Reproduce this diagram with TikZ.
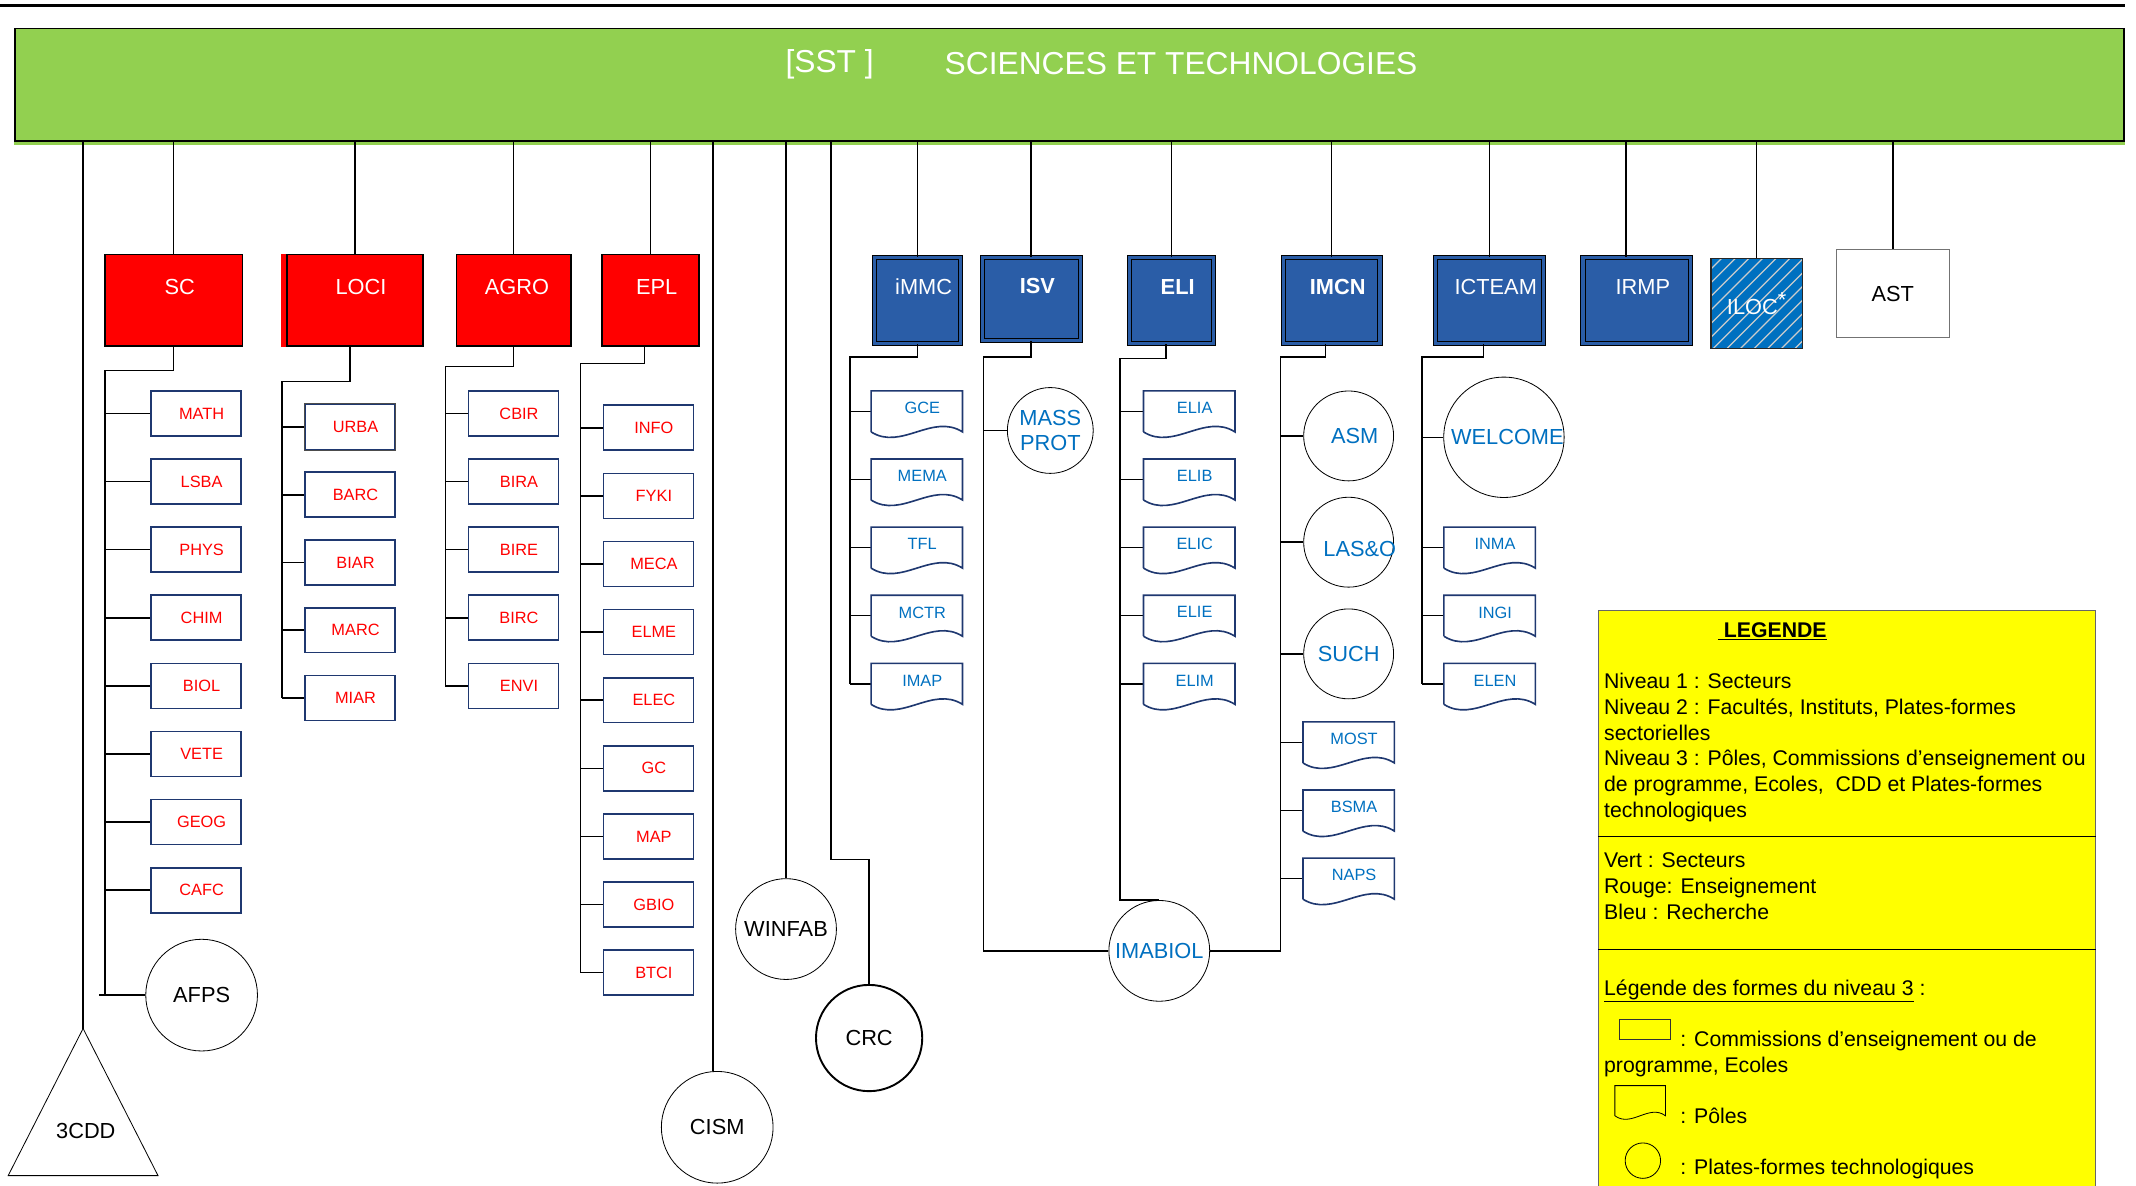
\documentclass[tikz,border=0pt]{standalone}
\usepackage{tikz}
\usepackage{fontspec}
\setmainfont{Liberation Sans}
\definecolor{vertsst}{RGB}{146,208,80}
\definecolor{rougeens}{RGB}{255,0,0}
\definecolor{bleurech}{RGB}{42,93,167}
\definecolor{bleuiloc}{RGB}{0,112,192}
\definecolor{bleutexte}{RGB}{0,112,192}
\definecolor{marine}{RGB}{31,56,112}
\definecolor{jaune}{RGB}{255,255,0}

\begin{document}
\begin{tikzpicture}
    [x=1pt, y=-1pt, line width=1.1pt,
    secteur/.style={draw=black, fill=vertsst, line width=1.2pt, inner sep=0},
    titre/.style={text=white, font=\fontsize{23.3}{28}\selectfont},
    niveau2/.style={inner sep=0, text=white, minimum height=67, text depth=20pt,
        font=\fontsize{16}{19}\selectfont, execute at begin node=\hspace*{9pt}},
    faculte/.style={niveau2, draw=black, fill=rougeens},
    institut/.style={niveau2, draw=black, fill=bleurech, double=bleurech,
        double distance=2.4pt, line width=0.7pt, minimum height=63},
    gras/.style={font=\fontsize{16}{19}\selectfont\bfseries},
    commission/.style={draw=marine, line width=1.2pt, fill=white, text=rougeens,
        inner sep=0, minimum width=66, minimum height=33, font=\fontsize{12}{14}\selectfont,
        execute at begin node=\hspace*{8pt}},
    pole/.style={text=bleutexte, inner sep=0, minimum width=66, minimum height=29,
        text depth=5pt, font=\fontsize{12}{14}\selectfont, execute at begin node=\hspace*{8pt}},
    plateforme/.style={circle, draw=black, line width=0.6pt, fill=white, inner sep=0,
        font=\fontsize{16}{19}\selectfont},
    legtexte/.style={inner sep=0, align=left, font=\fontsize{15.6}{19}\selectfont}]

    \useasboundingbox (0,0) rectangle (1568,870);
    \draw[line width=2pt] (0,4) -- (1560,4);
    \node[secteur, minimum width=1548, minimum height=82.5] (sst) at (785,62.25) {};
    \fill[vertsst] (sst.south west) rectangle ([yshift=-2.5pt]sst.south east);
    \node[titre] (sstcode) at (609,47) {[SST ]};
    \node[titre] (sstnom) at (867,47) {SCIENCES ET TECHNOLOGIES};

    \node[faculte, minimum width=101] (sc) at (127.5,220.5) {SC};
    \node[faculte, minimum width=100] (loci) at (260.5,220.5) {LOCI};
    \fill[rougeens] ([xshift=-4pt]loci.north west) rectangle (loci.south west);
    \node[faculte, minimum width=84] (agro) at (377,220.5) {AGRO\hspace*{4pt}};
    \node[faculte, minimum width=71] (epl) at (477.5,220.5) {EPL};
    \node[institut, minimum width=63] (immc) at (673.5,220.5) {iMMC};
    \node[institut, gras, minimum width=72, minimum height=61] (isv) at (757,219.5) {ISV};
    \node[institut, gras, minimum width=62] (eli) at (860,220.5) {ELI};
    \node[institut, gras, minimum width=71] (imcn) at (977.5,220.5) {IMCN};
    \node[institut, minimum width=79] (icteam) at (1093.5,220.5) {ICTEAM};
    \node[institut, minimum width=79] (irmp) at (1201.5,220.5) {IRMP};
    \node[draw=black!85, line width=0.8pt, fill=bleuiloc, text=white, inner sep=0,
        minimum width=67, minimum height=66, font=\fontsize{16}{19}\selectfont,
        path picture={\foreach \d in {-102,-92,...,38}
            \draw[black!20, line width=0.9pt] ([xshift=\d]path picture bounding box.south) -- ++(68,-68);}]
        (iloc) at (1289.5,223) {\raisebox{-2pt}{ILOC\raisebox{5pt}{*}}};
    \node[draw=black!55, line width=0.8pt, fill=white, inner sep=0, minimum width=83,
        minimum height=65, font=\fontsize{16}{19}\selectfont] (ast) at (1389.5,215.5) {AST};

    \foreach \n in {sc,loci,agro,epl,immc,isv,eli,imcn,icteam,iloc,ast}
        \draw (\n.north |- sst.south) -- (\n.north);
    \draw ([xshift=-8pt]irmp.north |- sst.south) -- ([xshift=-8pt]irmp.north);

    % SC
    \coordinate (scbus) at (77,272);
    \foreach \nom/\lab [count=\i from 0] in {math/MATH,lsba/LSBA,phys/PHYS,chim/CHIM,
        biol/BIOL,vete/VETE,geog/GEOG,cafc/CAFC}
    {
        \node[commission] (\nom) at (144,{303.5+50*\i}) {\lab};
        \draw (scbus |- \nom.west) -- (\nom.west);
    }
    \node[plateforme, minimum size=82] (afps) at (148,730.5) {AFPS};
    \draw (sc.south) |- (scbus) -- (scbus |- afps.west);
    \draw ([xshift=-4pt]scbus |- afps.west) -- (afps.west);

    % LOCI
    \coordinate (locibus) at (207,280);
    \foreach \nom/\lab [count=\i from 0] in {urba/URBA,barc/BARC,biar/BIAR,marc/MARC,miar/MIAR}
    {
        \node[commission] (\nom) at (257,{313.5+49.7*\i}) {\lab};
        \draw (locibus |- \nom.west) -- (\nom.west);
    }
    \draw[black!70, line width=0.8pt] (urba.south west) rectangle (urba.north east);
    \draw ([xshift=-3.5pt]loci.south) |- (locibus) -- (locibus |- miar.west);

    % AGRO
    \coordinate (agrobus) at (327,269);
    \foreach \nom/\lab [count=\i from 0] in {cbir/CBIR,bira/BIRA,bire/BIRE,birc/BIRC,envi/ENVI}
    {
        \node[commission] (\nom) at (377,{303.5+50*\i}) {\lab};
        \draw (agrobus |- \nom.west) -- (\nom.west);
    }
    \draw (agro.south) |- (agrobus) -- (agrobus |- envi.west);

    % EPL
    \coordinate (eplbus) at (426,267);
    \foreach \nom/\lab [count=\i from 0] in {info/INFO,fyki/FYKI,meca/MECA,elme/ELME,
        elec/ELEC,gc/GC,map/MAP,gbio/GBIO,btci/BTCI}
    {
        \node[commission] (\nom) at (476,{314+50*\i}) {\lab};
        \draw (eplbus |- \nom.west) -- (\nom.west);
    }
    \draw ([xshift=-4.5pt]epl.south) |- (eplbus) -- (eplbus |- btci.west);

    % iMMC
    \coordinate (immcbus) at (624,262);
    \foreach \nom/\lab [count=\i from 0] in {gce/GCE,mema/MEMA,tfl/TFL,mctr/MCTR,imap/IMAP}
    {
        \node[pole] (\nom) at (673,{302+50*\i}) {\lab};
        \draw (immcbus |- \nom.west) -- (\nom.west);
    }
    \draw (immc.south) |- (immcbus) -- (immcbus |- imap.west);

    % ISV
    \coordinate (isvbus) at (722,262);
    \node[plateforme, minimum size=63, text=bleutexte, align=center] (massprot) at (771,316) {MASS\\PROT};
    \node[plateforme, minimum size=74, text=bleutexte] (imabiol) at (851,698) {IMABIOL};
    \draw (isv.south) |- (isvbus) |- (imabiol.west);
    \draw (isvbus |- massprot.west) -- (massprot.west);

    % ELI
    \coordinate (elibus) at (822,263);
    \foreach \nom/\lab [count=\i from 0] in {elia/ELIA,elib/ELIB,elic/ELIC,elie/ELIE,elim/ELIM}
    {
        \node[pole] (\nom) at (873,{302+50*\i}) {\lab};
        \draw (elibus |- \nom.west) -- (\nom.west);
    }
    \draw ([xshift=-4pt]eli.south) |- (elibus) |- (imabiol.north);

    % IMCN
    \coordinate (imcnbus) at (940,262);
    \node[plateforme, minimum size=66, text=bleutexte] (asm) at (990,320) {\hspace*{9pt}ASM};
    \node[plateforme, minimum size=66, text=bleutexte] (lasso) at (990,398)
        {\makebox[53pt][l]{\hspace*{8pt}\raisebox{-5pt}[11pt][0pt]{LAS\&O}}};
    \node[plateforme, minimum size=66, text=bleutexte] (such) at (990,480) {SUCH};
    \foreach \nom/\lab [count=\i from 0] in {most/MOST,bsma/BSMA,naps/NAPS}
        \node[pole] (\nom) at (990,{545+50*\i}) {\lab};
    \foreach \nom in {asm,lasso,such,most,bsma,naps}
        \draw (imcnbus |- \nom.west) -- (\nom.west);
    \draw ([xshift=-4.5pt]imcn.south) |- (imcnbus) |- (imabiol.east);

    % ICTEAM
    \coordinate (icteambus) at (1044,262);
    \node[plateforme, minimum size=88, text=bleutexte] (welcome) at (1104,321) {\hspace*{5pt}WELCOME};
    \foreach \nom/\lab [count=\i from 0] in {inma/INMA,ingi/INGI,elen/ELEN}
        \node[pole] (\nom) at (1093.5,{402+50*\i}) {\lab};
    \foreach \nom in {welcome,inma,ingi,elen}
        \draw (icteambus |- \nom.west) -- (\nom.west);
    \draw ([xshift=-4.5pt]icteam.south) |- (icteambus) -- (icteambus |- elen.west);

    \foreach \p in {gce,mema,tfl,mctr,imap,elia,elib,elic,elie,elim,most,bsma,naps,inma,ingi,elen}
        \draw[marine, line width=1.2pt] (\p.south west) -- (\p.north west) -- (\p.north east)
            -- (\p.south east) .. controls +(-22,-14) and +(22,14) .. (\p.south west);

    % plates-formes sectorielles
    \node[plateforme, minimum size=74] (winfab) at (577,682) {WINFAB};
    \node[plateforme, minimum size=78, line width=1.4pt] (crc) at (638,762) {CRC};
    \node[plateforme, minimum size=82] (cism) at (526.5,827.5) {CISM};
    \coordinate (crcjog) at (610,631);
    \draw (winfab.north |- sst.south) -- (winfab.north);
    \draw ([xshift=-3pt]cism.north |- sst.south) -- ([xshift=-3pt]cism.north);
    \draw (crcjog |- sst.south) -- (crcjog) -| (crc.north);
    \coordinate (cddtop) at (61,755);
    \draw[line width=0.6pt] (cddtop) -- (116,863) -- (6,863) -- cycle;
    \node[font=\fontsize{16}{19}\selectfont] (cdd) at (63,830) {3CDD};
    \draw (cddtop |- sst.south) -- (cddtop);

    % legende
    \node[draw=black!60, line width=0.6pt, fill=jaune, anchor=north west, inner sep=0,
        minimum width=365, minimum height=440] (legende) at (1173,448) {};
    \coordinate (sep1) at (1173,614);
    \coordinate (sep2) at (1173,697);
    \draw (sep1) -- (sep1 -| legende.east);
    \draw (sep2) -- (sep2 -| legende.east);
    \node[legtexte, anchor=base] (legtitre) at (1301,468) {\underline{\textbf{~LEGENDE}}};
    \node[legtexte, anchor=north west] (niveaux) at (1177,493.4)
        {Niveau 1 : Secteurs\\Niveau 2 : Facultés, Instituts, Plates-formes\\sectorielles\\
        Niveau 3 : Pôles, Commissions d’enseignement ou\\de programme, Ecoles,\ \ CDD et Plates-formes\\
        technologiques};
    \node[legtexte, anchor=north west] (couleurs) at (1177,625.4)
        {Vert : Secteurs\\Rouge: Enseignement\\Bleu : Recherche};
    \node[legtexte, anchor=base west] (formes) at (1177,730.5) {\underline{Légende des formes du niveau 3} :};
    \node[draw=black!80, line width=0.6pt, minimum width=37, minimum height=15, inner sep=0]
        (symcom) at (1207.5,755.5) {};
    \node[legtexte, anchor=base west] (txtcom) at (1233,768.5) {: Commissions d’enseignement ou de};
    \node[legtexte, anchor=base west] (txtcom2) at (1177,787.5) {programme, Ecoles};
    \node[inner sep=0, minimum width=36, minimum height=21] (sympole) at (1204,808) {};
    \draw[line width=0.6pt] (sympole.south west) -- (sympole.north west) -- (sympole.north east)
        -- (sympole.south east) .. controls +(-12,-9) and +(12,9) .. (sympole.south west);
    \node[legtexte, anchor=base west] (txtpole) at (1233,824.5) {: Pôles};
    \node[circle, draw, line width=0.6pt, minimum size=26, inner sep=0] (symplat) at (1206,852) {};
    \node[legtexte, anchor=base west] (txtplat) at (1233,862.5) {: Plates-formes technologiques};
\end{tikzpicture}
\end{document}
